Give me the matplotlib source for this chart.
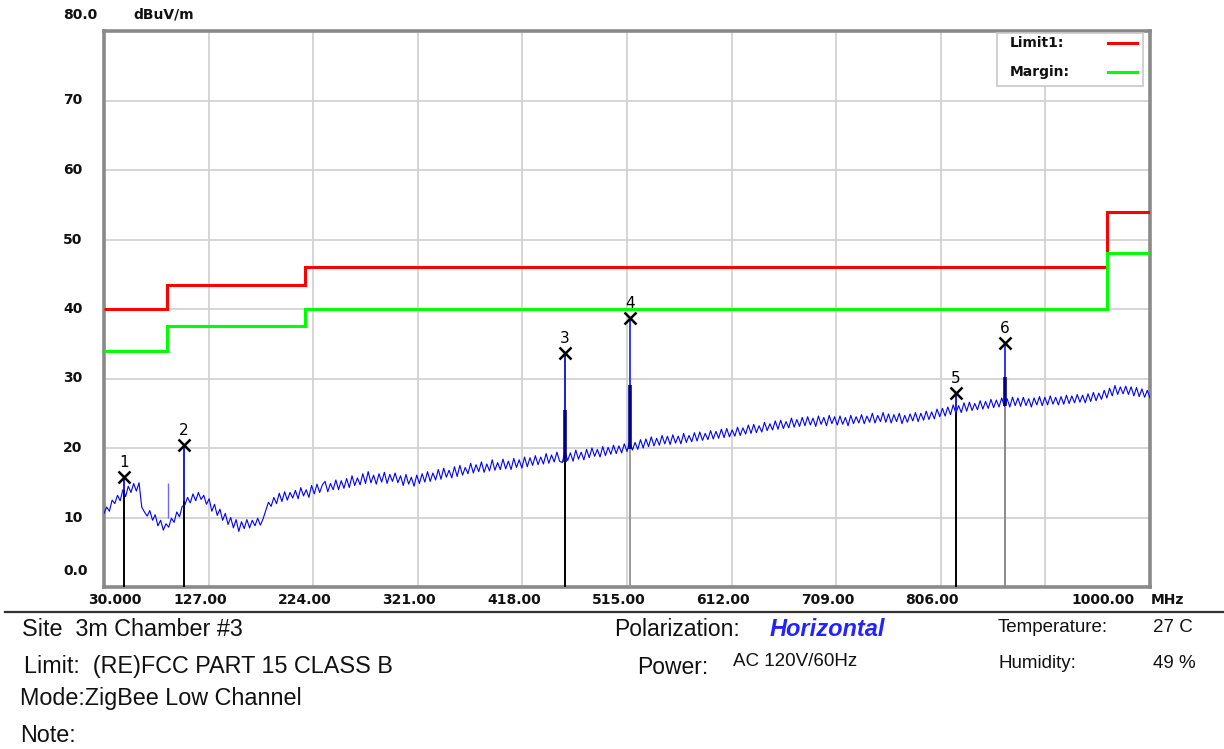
import numpy as np
import matplotlib.pyplot as plt
from matplotlib.patches import Rectangle
from matplotlib.lines import Line2D
import matplotlib.transforms as mtrans

# sweep 30 - 1000 MHz, one reading every 2.5 MHz (10 readings per row)
f_start, f_stop, f_step = 30, 1000, 2.5
level = [
    10.6, 11.5, 10.9, 12.5, 12.0, 13.2, 12.4, 14.0, 13.0, 14.5,
    13.6, 14.9, 13.8, 15.0, 11.5, 10.8, 10.2, 11.0, 9.6, 10.4,
    8.8, 9.6, 8.2, 9.1, 8.6, 9.9, 9.3, 10.8, 10.1, 11.6,
    11.8, 12.9, 12.1, 13.4, 12.4, 13.6, 12.6, 13.2, 11.9, 12.7,
    10.9, 11.9, 10.3, 11.2, 9.6, 10.6, 9.0, 10.0, 8.5, 9.7,
    8.0, 9.4, 8.4, 9.7, 8.5, 9.6, 8.8, 9.9, 8.9, 9.8,
    11.0, 12.2, 11.6, 12.9, 12.0, 13.5, 12.3, 13.7, 12.5, 13.6,
    12.8, 13.9, 12.7, 14.3, 13.1, 14.0, 12.9, 14.6, 13.4, 14.8,
    13.6, 14.7, 15.2, 13.7, 14.9, 14.0, 15.4, 14.0, 15.3, 14.2,
    15.6, 14.3, 16.0, 14.6, 15.7, 14.7, 16.3, 14.9, 16.6, 15.0,
    16.1, 14.8, 16.3, 15.1, 16.5, 14.9, 16.2, 15.2, 16.4, 15.0,
    16.0, 14.6, 16.2, 14.8, 15.8, 14.5, 16.1, 14.9, 16.3, 15.1,
    16.6, 15.2, 16.4, 15.4, 16.9, 15.5, 17.1, 15.8, 16.8, 15.7,
    17.3, 15.9, 17.5, 16.1, 17.2, 16.3, 17.8, 16.4, 17.6, 16.6,
    18.0, 16.5, 17.7, 16.7, 18.3, 16.8, 17.9, 16.9, 18.4, 17.0,
    18.1, 16.9, 18.5, 17.2, 18.3, 17.1, 18.7, 17.3, 18.6, 17.5,
    18.9, 17.6, 18.7, 17.7, 19.2, 17.8, 19.0, 18.0, 19.4, 18.1,
    17.9, 19.5, 18.2, 19.3, 18.1, 19.7, 18.4, 19.4, 18.3, 19.8,
    18.6, 20.0, 18.8, 19.8, 18.7, 20.2, 18.9, 20.1, 19.1, 20.4,
    19.2, 20.3, 19.3, 20.6, 19.5, 21.0, 19.7, 20.8, 19.8, 21.2,
    20.0, 21.3, 20.2, 21.6, 20.3, 21.4, 20.4, 21.8, 20.6, 21.7,
    20.5, 21.9, 20.7, 21.7, 20.6, 22.1, 20.8, 21.8, 20.9, 22.2,
    21.0, 22.3, 21.1, 22.1, 21.2, 22.5, 21.3, 22.4, 21.4, 22.7,
    21.5, 22.8, 21.6, 22.6, 21.7, 23.0, 21.8, 22.9, 22.0, 23.3,
    22.1, 23.4, 22.2, 23.2, 22.3, 23.7, 22.5, 23.5, 22.6, 23.9,
    22.7, 24.0, 22.8, 23.8, 22.9, 24.3, 23.0, 24.1, 23.1, 24.4,
    23.2, 24.5, 23.3, 24.3, 23.1, 24.6, 23.4, 24.4, 23.2, 24.7,
    23.5, 24.5, 23.3, 24.6, 23.4, 24.4, 23.2, 24.7, 23.5, 24.5,
    23.6, 24.8, 23.5, 24.6, 23.7, 25.0, 23.6, 24.7, 23.8, 25.1,
    23.7, 24.9, 23.6, 24.8, 23.8, 25.0, 23.5, 24.7, 23.7, 24.9,
    23.9, 25.1, 23.8, 25.0, 24.0, 25.3, 24.1, 25.2, 24.2, 25.6,
    24.5, 25.7, 24.6, 25.9, 24.8, 26.2, 25.0, 26.1, 25.1, 26.5,
    25.3, 26.6, 25.4, 26.4, 25.5, 26.8, 25.6, 26.7, 25.7, 27.0,
    25.8, 26.9, 25.9, 27.2, 26.0, 27.1, 25.9, 27.3, 26.1, 27.2,
    26.0, 27.3, 26.1, 27.1, 25.9, 27.2, 26.2, 27.4, 26.1, 27.3,
    26.2, 27.5, 26.3, 27.3, 26.2, 27.4, 26.3, 27.6, 26.4, 27.5,
    26.5, 27.7, 26.6, 27.6, 26.5, 27.8, 26.7, 28.0, 26.8, 27.9,
    27.0, 28.3, 27.2, 28.6, 27.5, 29.0, 27.7, 28.8, 27.8, 28.9,
    27.7, 28.8, 27.5, 28.7, 27.4, 28.5, 27.3, 28.3, 27.2,
]

# FCC part 15 class B limit (steps) and margin 6 dB below
limit_edges = [30, 88, 216, 960, 1000]
limit_vals = [40, 43.5, 46, 54]
margin_vals = [34, 37.5, 40, 48]

# markers
mk_no = ["1", "2", "3", "4", "5", "6"]
mk_freq = [48.2, 103.8, 457.5, 517.8, 820.0, 865.5]
mk_level = [15.8, 20.4, 33.7, 38.7, 27.9, 35.1]
mk_base = [14.0, 12.4, 18.4, 19.9, 25.2, 26.5]
mk_stem_col = ["black", "black", "black", "#9a9a9a", "black", "#8a8a8a"]
burst_freq = [457.5, 517.8, 865.5]
burst_top = [25.5, 29.0, 30.2]
burst_base = [18.0, 19.8, 26.0]
# small extra spike near 89 MHz
spur_freq = [89.0]
spur_top = [15.0]
spur_base = [10.0]

xtick_vals = [30, 127, 224, 321, 418, 515, 612, 709, 806, 903, 1000]
xtick_text = ["30.000", "127.00", "224.00", "321.00", "418.00", "515.00",
              "612.00", "709.00", "806.00", "", "1000.00"]
ytick_vals = [10, 20, 30, 40, 50, 60, 70]

W, H = 1224, 749
fig = plt.figure(figsize=(W / 100, H / 100), dpi=100)
ax = fig.add_axes([104 / W, 1 - 587 / H, 1046 / W, 556 / H])

freq = np.arange(f_start, f_stop + 0.1, f_step)
ax.plot(freq, level, color="#0000ff", lw=0.8, zorder=4)

ax.stairs(limit_vals, limit_edges, baseline=None, color="#ff0000", lw=2.2, zorder=5)
ax.stairs(margin_vals, limit_edges, baseline=None, color="#00ff00", lw=2.2, zorder=5)

# marker stems
for f, lv, c in zip(mk_freq, mk_level, mk_stem_col):
    ax.vlines(f, 0, lv, color=c, lw=1.4, zorder=3)
ax.vlines(mk_freq, mk_base, mk_level, color="#2a2aff", lw=1.2, zorder=6)
ax.vlines(burst_freq, burst_base, burst_top, color="#00008b", lw=2.6, zorder=6)
ax.vlines(spur_freq, spur_base, spur_top, color="#6a6aff", lw=1.0, zorder=4)
ax.plot(mk_freq, mk_level, ls="none", marker="x", ms=9, mew=1.8,
        color="black", zorder=7)
for n, f, lv in zip(mk_no, mk_freq, mk_level):
    ax.annotate(n, (f, lv), xytext=(0, 5), textcoords="offset points",
                ha="center", va="bottom", fontsize=11, color="black",
                fontfamily="DejaVu Sans", zorder=8)

ax.set_xlim(30, 1000)
ax.set_ylim(0, 80)
ax.set_xticks(xtick_vals)
ax.set_yticks(ytick_vals)
ax.grid(True, color="#d2d2d2", lw=1.3)
ax.set_axisbelow(True)
ax.tick_params(length=0, labelbottom=False, labelleft=False)
for s in ax.spines.values():
    s.set_color("#8a8a8a")
    s.set_linewidth(2.6)

lab = dict(fontfamily="DejaVu Sans", fontweight="bold", fontsize=10, color="#111111")
# y labels
ytr = mtrans.blended_transform_factory(fig.transFigure, ax.transData)
for v in ytick_vals:
    fig.text(63 / W, v, str(v), transform=ytr, ha="left", va="center", **lab)
fig.text(63 / W, 2.3, "0.0", transform=ytr, ha="left", va="center", **lab)
fig.text(63 / W, 1 - 15 / H, "80.0", ha="left", va="center", **lab)
fig.text(133 / W, 1 - 15 / H, "dBuV/m", ha="left", va="center", **lab)

# x labels
xtr = mtrans.blended_transform_factory(ax.transData, fig.transFigure)
for v, t in zip(xtick_vals, xtick_text):
    if not t:
        continue
    x = v - 8
    if v == 30:
        x = 40
    if v == 1000:
        x = 956
    fig.text(x, 1 - 600 / H, t, transform=xtr, ha="center", va="center", **lab)
fig.text(1016, 1 - 600 / H, "MHz", transform=xtr, ha="center", va="center", **lab)

# legend box
ax.add_patch(Rectangle((0.854, 0.901), 0.139, 0.095, transform=ax.transAxes,
                       facecolor="white", edgecolor="#c8c8c8", lw=1.2, zorder=9))
ax.text(0.866, 0.978, "Limit1:", transform=ax.transAxes, ha="left",
        va="center", zorder=10, **lab)
ax.text(0.866, 0.926, "Margin:", transform=ax.transAxes, ha="left",
        va="center", zorder=10, **lab)
ax.plot([0.960, 0.988], [0.978, 0.978], transform=ax.transAxes,
        color="#ff0000", lw=2.2, zorder=10)
ax.plot([0.960, 0.988], [0.926, 0.926], transform=ax.transAxes,
        color="#00ff00", lw=2.2, zorder=10)

# separator and info block
fig.add_artist(Line2D([5 / W, 1], [1 - 612 / H, 1 - 612 / H],
                      transform=fig.transFigure, color="#333333", lw=1.6))
info = dict(fontfamily="Liberation Sans", color="#111111")
big = 16.8
fig.text(22 / W, 1 - 630 / H, "Site  3m Chamber #3", fontsize=big, va="center", **info)
fig.text(24 / W, 1 - 666 / H, "Limit:  (RE)FCC PART 15 CLASS B", fontsize=big, va="center", **info)
fig.text(20 / W, 1 - 698 / H, "Mode:ZigBee Low Channel", fontsize=big, va="center", **info)
fig.text(20 / W, 1 - 736 / H, "Note:", fontsize=big, va="center", **info)
fig.text(614 / W, 1 - 630 / H, "Polarization:", fontsize=16.5, va="center", **info)
fig.text(770 / W, 1 - 630 / H, "Horizontal", fontsize=17, va="center",
         fontweight="bold", fontstyle="italic", fontfamily="Liberation Sans",
         color="#2323ff")
fig.text(637 / W, 1 - 667 / H, "Power:", fontsize=16.5, va="center", **info)
fig.text(733 / W, 1 - 662 / H, "AC 120V/60Hz", fontsize=13.5, va="center", **info)
fig.text(998 / W, 1 - 628 / H, "Temperature:", fontsize=13.5, va="center", **info)
fig.text(1153 / W, 1 - 628 / H, "27 C", fontsize=13.5, va="center", **info)
fig.text(998 / W, 1 - 663 / H, "Humidity:", fontsize=13.5, va="center", **info)
fig.text(1153 / W, 1 - 663 / H, "49 %", fontsize=13.5, va="center", **info)

fig.savefig("out.png", dpi=100)
